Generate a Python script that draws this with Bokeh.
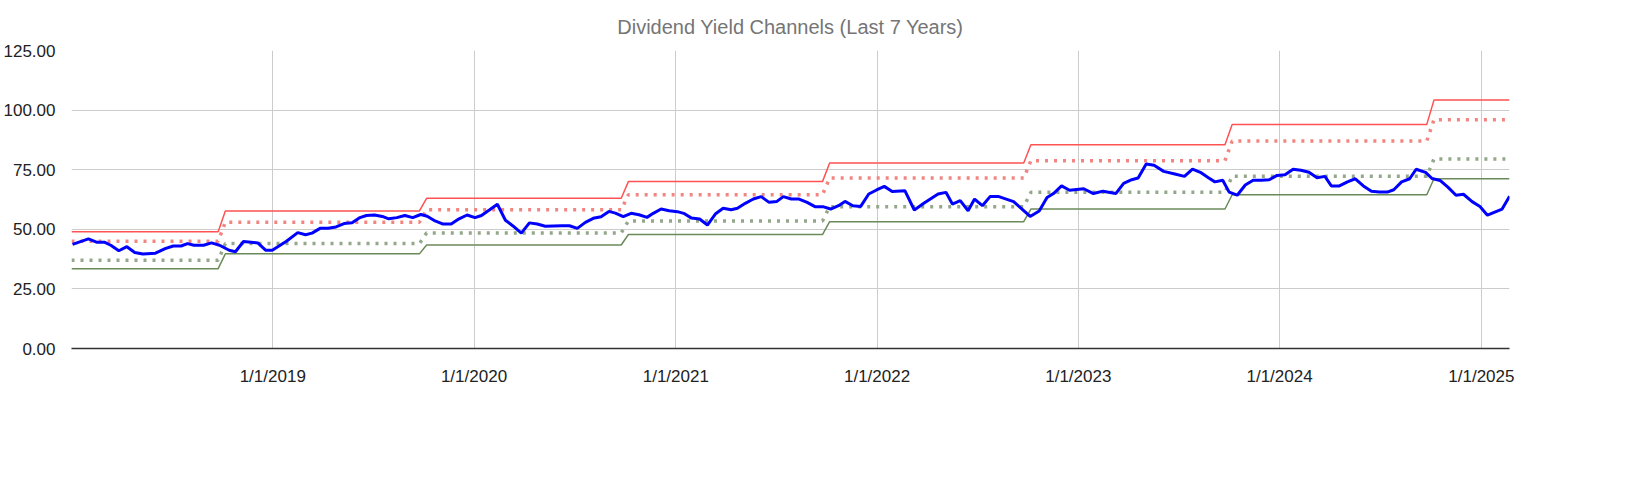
import numpy as np
import pandas as pd
from bokeh.plotting import figure
from bokeh.models import Legend, LegendItem, NumeralTickFormatter, DatetimeTickFormatter, FixedTicker, Range1d
from bokeh.embed import file_html
from bokeh.resources import INLINE

# MDLZ yield channel series (decimal year, value)
mdlz_t = [2018.005,2018.084,2018.124,2018.163,2018.195,2018.235,2018.275,2018.314,2018.354,2018.417,2018.465,2018.505,2018.544,2018.576,2018.608,2018.656,2018.695,2018.735,2018.783,2018.814,2018.854,2018.925,2018.965,2018.997,2019.068,2019.124,2019.163,2019.195,2019.235,2019.275,2019.314,2019.354,2019.394,2019.433,2019.465,2019.505,2019.544,2019.576,2019.616,2019.656,2019.695,2019.735,2019.767,2019.806,2019.846,2019.886,2019.925,2019.965,2020.005,2020.037,2020.076,2020.116,2020.156,2020.195,2020.235,2020.275,2020.314,2020.354,
          2020.435,2020.474,2020.513,2020.553,2020.592,2020.631,2020.670,2020.702,2020.741,2020.780,2020.819,2020.859,2020.890,2020.929,2020.969,2021.008,2021.039,2021.078,2021.118,2021.157,2021.196,2021.235,2021.275,2021.306,2021.345,2021.385,2021.424,2021.463,2021.502,2021.534,2021.573,2021.612,2021.652,2021.691,2021.730,2021.769,2021.808,2021.840,2021.879,2021.918,2021.958,2021.997,2022.036,2022.075,2022.138,2022.185,2022.232,2022.303,2022.342,2022.374,2022.413,2022.452,2022.484,2022.523,2022.562,2022.601,
          2022.678,2022.717,2022.760,2022.805,2022.844,2022.876,2022.916,2022.956,2023.027,2023.075,2023.122,2023.186,2023.225,2023.265,2023.297,2023.337,2023.376,2023.424,2023.479,2023.527,2023.567,2023.606,2023.646,2023.678,2023.717,2023.749,2023.789,2023.829,2023.868,2023.908,2023.948,2023.987,2024.027,2024.067,2024.106,2024.146,2024.186,2024.225,2024.257,2024.297,2024.337,2024.376,2024.416,2024.456,2024.495,2024.535,2024.567,2024.606,2024.646,2024.678,2024.725,2024.757,2024.797,2024.837,2024.876,2024.913,2024.956,2024.995,2025.030,2025.103,2025.140]
mdlz_v = [43.7,46,44.6,44.6,43.3,41,42.7,40.3,39.6,40,41.9,43,43,44,43.3,43.3,44.3,43.3,41.2,40.6,44.9,44.3,41.2,41.2,45,48.6,47.7,48.4,50.4,50.4,51,52.4,52.7,54.9,55.8,56,55.4,54.4,54.9,55.8,54.9,56.2,55.5,53.5,52.2,52.2,54.4,56,54.9,55.8,58.1,60.5,53.8,51.3,48.4,52.7,52.2,51.3,
          51.5,51.5,50.4,52.9,54.6,55.3,57.5,56.8,55.3,56.7,56.1,55,56.7,58.5,57.8,57.4,56.7,54.7,54.3,51.8,56.4,58.8,58.2,58.8,60.9,62.7,63.7,61.3,61.7,63.7,62.7,62.7,61.3,59.5,59.5,58.5,59.9,61.7,59.9,59.6,64.8,66.5,68,65.9,66.2,58.1,60.9,64.8,65.5,60.6,62,57.8,62.7,59.9,63.8,63.8,
          61.6,58.7,55.4,57.7,63.3,65,68.2,66.4,67,65,66,65,69.3,70.8,71.5,77.4,76.9,74.3,73.2,72.2,75.2,73.9,71.6,69.9,70.6,65.6,64.3,68.6,70.6,70.6,70.8,72.6,72.9,75.2,74.8,73.9,71.6,72.2,68.2,68.2,69.9,71.2,68.2,66,65.6,65.6,66.6,69.9,71.2,75.2,73.9,71.3,70.5,67.6,64.3,64.7,61.6,59.6,55.9,58.5,63.9]

years = [2018, 2019, 2020, 2021, 2022, 2023, 2024]
overvalued = [49.0, 57.7, 63.0, 70.0, 77.8, 85.5, 94.0, 104.2]
undervalued = [33.5, 39.7, 43.4, 47.8, 53.2, 58.5, 64.5, 71.2]
pct75 = [45.0, 53.0, 58.2, 64.5, 71.5, 78.8, 87.0, 96.0]
pct25 = [37.0, 44.0, 48.5, 53.5, 59.5, 65.5, 72.3, 79.5]

START = pd.Timestamp("2018-01-01")
END = pd.Timestamp("2025-02-21")

def dy(t):
    y = int(np.floor(t))
    return pd.Timestamp(year=y, month=1, day=1) + pd.Timedelta(days=(t - y) * 365.25)

def step(levels):
    xs = [START]; ys = [levels[0]]
    for i, y in enumerate(years):
        xs.append(pd.Timestamp(f"{y}-09-24")); ys.append(levels[i])
        xs.append(pd.Timestamp(f"{y}-10-07")); ys.append(levels[i + 1])
    xs.append(END); ys.append(levels[-1])
    return xs, ys

p = figure(frame_width=1438, frame_height=298, x_axis_type="datetime", output_backend="svg",
           toolbar_location=None, x_range=Range1d(START, END), y_range=Range1d(0, 125),
           min_border_left=10, min_border_right=75, min_border_top=10, min_border_bottom=100)
p.title.text = "Dividend Yield Channels (Last 7 Years)"
p.title.align = "center"
p.title.text_color = "#757575"
p.title.text_font = "Liberation Sans"
p.title.text_font_size = "20px"
p.title.text_font_style = "normal"
p.title.standoff = 26
p.outline_line_color = None

x, y = step(overvalued)
r_o = p.line(x, y, color="#ff5252", line_width=1.5)
x, y = step(undervalued)
r_u = p.line(x, y, color="#6b8a5a", line_width=1.5)
x, y = step(pct75)
r_75 = p.line(x, y, color="#f28582", line_width=3.5, line_dash="3 6")
x, y = step(pct25)
r_25 = p.line(x, y, color="#93a78a", line_width=3.5, line_dash="3 6")
r_m = p.line([dy(t) for t in mdlz_t], mdlz_v, color="#0000ff", line_width=3)

p.yaxis.ticker = FixedTicker(ticks=[0, 25, 50, 75, 100, 125])
p.yaxis.formatter = NumeralTickFormatter(format="0.00")
p.xaxis.ticker = FixedTicker(ticks=[pd.Timestamp(f"{y}-01-01").value / 1e6 for y in range(2019, 2026)])
p.xaxis.formatter = DatetimeTickFormatter(years="%-m/%-d/%Y", months="%-m/%-d/%Y", days="%-m/%-d/%Y")
for ax in (p.xaxis, p.yaxis):
    ax.major_label_text_font = "Liberation Sans"
    ax.major_label_text_font_size = "17px"
    ax.major_label_text_color = "#222222"
    ax.major_tick_line_color = None
    ax.minor_tick_line_color = None
p.yaxis.axis_line_color = None
p.yaxis.major_label_standoff = 10
p.xaxis.axis_line_color = "#333333"
p.xaxis.axis_line_width = 1.5
p.xaxis.major_label_standoff = 12
p.grid.grid_line_color = "#cccccc"
p.grid.grid_line_width = 1

legend = Legend(items=[
    LegendItem(label="MDLZ", renderers=[r_m]),
    LegendItem(label="Overvalued Yield", renderers=[r_o]),
    LegendItem(label="Undervalued Yield", renderers=[r_u]),
    LegendItem(label="75th Percentile (25% to Overvalued)", renderers=[r_75]),
    LegendItem(label="25th Percentile (25% to Undervalued)", renderers=[r_25]),
], orientation="horizontal", location=(-80, -82), border_line_color=None,
   background_fill_alpha=0,
   label_text_font="Liberation Sans", label_text_font_size="17px", label_text_color="#222222",
   spacing=30, glyph_width=22, margin=0, padding=4)
p.add_layout(legend, "center")

open("out.html", "w").write(file_html(p, INLINE))
